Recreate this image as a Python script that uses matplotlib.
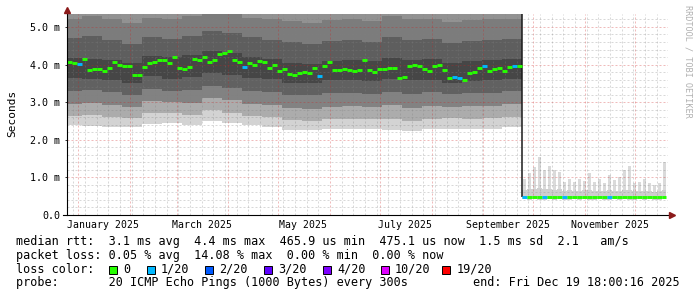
import numpy as np
import matplotlib
matplotlib.use("Agg")
import matplotlib.pyplot as plt
import matplotlib.dates as mdates
from matplotlib.ticker import FixedLocator, FixedFormatter, MultipleLocator, NullFormatter

# --- data -------------------------------------------------------------
# median rtt per 3-day step, starting 2024-12-22 (ms)
median_ms = [
    4.06, 4.07, 4.05, 4.02, 4.15, 3.85, 3.88, 3.87, 3.84, 3.92,
    4.06, 3.99, 3.96, 3.96, 3.72, 3.72, 3.94, 4.03, 4.08, 4.12,
    4.11, 4.05, 4.20, 3.90, 3.89, 3.94, 4.15, 4.12, 4.20, 4.08,
    4.12, 4.27, 4.30, 4.35, 4.11, 4.08, 3.94, 4.04, 3.98, 4.10,
    4.08, 3.91, 3.99, 3.83, 3.87, 3.75, 3.72, 3.78, 3.80, 3.78,
    3.90, 3.70, 3.96, 4.08, 3.86, 3.86, 3.88, 3.85, 3.82, 3.86,
    4.11, 3.85, 3.81, 3.88, 3.88, 3.90, 3.92, 3.64, 3.67, 3.96,
    3.99, 3.96, 3.89, 3.82, 3.96, 3.98, 3.86, 3.65, 3.66, 3.63,
    3.59, 3.77, 3.80, 3.90, 3.95, 3.84, 3.88, 3.90, 3.84, 3.94,
    3.96, 3.96,
    0.47, 0.47, 0.48, 0.47, 0.47, 0.48, 0.47, 0.47, 0.47, 0.48,
    0.47, 0.47, 0.47, 0.48, 0.47, 0.47, 0.48, 0.47, 0.47, 0.47,
    0.48, 0.47, 0.47, 0.47, 0.47, 0.48, 0.47, 0.47, 0.48,
]
# lost pings (of 20) per 3-day step
loss = [
    0, 0, 0, 1, 0, 0, 0, 0, 0, 0,
    0, 0, 0, 0, 0, 0, 0, 0, 0, 0,
    0, 0, 0, 0, 0, 0, 0, 0, 0, 0,
    0, 0, 0, 0, 0, 0, 1, 0, 0, 0,
    0, 0, 0, 0, 0, 0, 0, 0, 0, 0,
    0, 1, 0, 0, 0, 0, 0, 0, 0, 0,
    0, 0, 0, 0, 0, 0, 0, 0, 0, 0,
    0, 0, 0, 0, 0, 0, 0, 0, 1, 1,
    0, 0, 0, 0, 1, 0, 0, 0, 0, 0,
    1, 0,
    1, 0, 0, 0, 1, 0, 0, 0, 1, 0,
    0, 0, 0, 0, 0, 0, 0, 1, 0, 0,
    0, 0, 0, 0, 0, 0, 0, 0, 0,
]

# smoke before the change, 12-day steps (ms)
pre_lo  = [2.38, 2.37, 2.35, 2.35, 2.42, 2.45, 2.40, 2.50, 2.45, 2.40, 2.35, 2.25,
           2.25, 2.28, 2.30, 2.30, 2.25, 2.23, 2.30, 2.30, 2.30, 2.30, 2.35]
pre_p10 = [2.62, 2.65, 2.60, 2.58, 2.70, 2.72, 2.66, 2.78, 2.72, 2.64, 2.60, 2.52,
           2.50, 2.55, 2.56, 2.56, 2.55, 2.50, 2.56, 2.58, 2.56, 2.57, 2.60]
pre_p20 = [2.95, 2.98, 2.92, 2.88, 3.02, 3.00, 2.98, 3.10, 3.05, 2.96, 2.92, 2.85,
           2.83, 2.88, 2.90, 2.88, 2.92, 2.85, 2.90, 2.88, 2.90, 2.90, 2.95]
pre_p30 = [3.30, 3.32, 3.28, 3.20, 3.35, 3.30, 3.32, 3.42, 3.38, 3.30, 3.28, 3.20,
           3.18, 3.24, 3.25, 3.22, 3.28, 3.22, 3.26, 3.22, 3.25, 3.25, 3.30]
pre_p40 = [3.65, 3.62, 3.60, 3.52, 3.70, 3.62, 3.66, 3.78, 3.72, 3.65, 3.62, 3.52,
           3.50, 3.58, 3.60, 3.56, 3.62, 3.58, 3.60, 3.50, 3.55, 3.58, 3.62]
pre_p60 = [4.18, 4.15, 4.12, 4.05, 4.22, 4.20, 4.25, 4.35, 4.30, 4.20, 4.15, 4.05,
           4.02, 4.10, 4.12, 4.10, 4.18, 4.12, 4.15, 4.05, 4.10, 4.12, 4.15]
pre_p70 = [4.70, 4.75, 4.65, 4.55, 4.72, 4.68, 4.75, 4.88, 4.85, 4.72, 4.66, 4.60,
           4.55, 4.62, 4.65, 4.60, 4.72, 4.66, 4.68, 4.58, 4.62, 4.65, 4.68]
pre_p80 = [5.22, 5.30, 5.20, 5.10, 5.25, 5.20, 5.28, 5.40, 5.38, 5.25, 5.20, 5.15,
           5.10, 5.18, 5.20, 5.15, 5.28, 5.22, 5.22, 5.12, 5.18, 5.20, 5.22]

# smoke after the change, 3-day steps (ms)
post_lo  = [0.42, 0.41, 0.42, 0.41, 0.40, 0.42, 0.41, 0.42, 0.41, 0.41,
            0.42, 0.41, 0.42, 0.41, 0.41, 0.42, 0.41, 0.41, 0.42, 0.41,
            0.42, 0.41, 0.41, 0.42, 0.41, 0.42, 0.41, 0.41, 0.42]
post_p80 = [0.66, 0.70, 0.68, 0.72, 0.70, 0.68, 0.66, 0.68, 0.64, 0.66,
            0.65, 0.64, 0.66, 0.67, 0.64, 0.65, 0.63, 0.66, 0.64, 0.65,
            0.67, 0.66, 0.63, 0.64, 0.65, 0.63, 0.62, 0.63, 0.66]
post_max = [0.95, 1.12, 1.27, 1.53, 1.20, 1.29, 1.20, 1.15, 0.89, 0.97,
            0.89, 0.97, 0.90, 1.11, 0.89, 0.97, 0.84, 1.06, 0.93, 1.02,
            1.20, 1.29, 0.84, 0.89, 0.97, 0.84, 0.80, 0.84, 1.42]

y_labels = ["0.0", "1.0 m", "2.0 m", "3.0 m", "4.0 m", "5.0 m"]
x_labels = ["January 2025", "March 2025", "May 2025", "July 2025",
            "September 2025", "November 2025"]
x_label_months = ["2025-01-01", "2025-03-01", "2025-05-01", "2025-07-01",
                  "2025-09-01", "2025-11-01"]

loss_names = ["0", "1/20", "2/20", "3/20", "4/20", "10/20", "19/20"]
loss_colors = ["#26ff00", "#00b8ff", "#0059ff", "#5e00ff", "#7e00ff", "#dd00ff", "#ff0000"]

# --- time base ----------------------------------------------------------
t0 = np.datetime64("2024-12-22T00:00")
t_end = np.datetime64("2025-12-19T18:00")
view_start = np.datetime64("2024-12-24T21:00")
view_end = np.datetime64("2025-12-20T19:00")
d3 = np.timedelta64(3, "D")
d12 = np.timedelta64(12, "D")

n_pre = len(pre_lo)
med_left = t0 + np.arange(len(median_ms)) * d3
med_right = np.minimum(med_left + d3, t_end)
pre_edges = t0 + np.arange(n_pre + 1) * d12
drop_t = pre_edges[-1]
post_left = drop_t + np.arange(len(post_lo)) * d3
post_edges = np.append(post_left, t_end)

num = mdates.date2num

# --- figure -------------------------------------------------------------
W, H = 697, 297
fig = plt.figure(figsize=(W / 100, H / 100), dpi=100)
fig.patch.set_facecolor("white")
ax = fig.add_axes([66.5 / W, 1 - 215 / H, (668 - 66.5) / W, (215 - 13.8) / H])
y_top = 5.35
ax.set_xlim(num(view_start), num(view_end))
ax.set_ylim(0, y_top)
for s in ax.spines.values():
    s.set_visible(False)

# smoke before
xe = num(pre_edges)
def ext(v):
    return np.append(v, v[-1])
pre_layers = [pre_lo, pre_p10, pre_p20, pre_p30, pre_p40, pre_p60, pre_p70, pre_p80]
pre_greys = ["#d3d3d3", "#acacac", "#828282", "#616161", "#464646", "#5e5e5e", "#7c7c7c"]
for k in range(len(pre_greys)):
    ax.fill_between(xe, ext(pre_layers[k]), ext(pre_layers[k + 1]), step="post",
                    color=pre_greys[k], lw=0, zorder=1)
ax.fill_between(xe, ext(pre_p80), y_top + 1, step="post", color="#929292", lw=0, zorder=1)

# smoke after
pe = num(post_edges)
ax.fill_between(pe, ext(post_lo), ext(post_p80), step="post", color="#cfcfcf", lw=0, zorder=1)
ax.bar(num(post_left) + 0.5, np.array(post_max) - np.array(post_p80), bottom=post_p80,
       width=2.0, align="edge", color="#dadada", lw=0, zorder=1)

# black step at the change
ax.vlines(num(drop_t), median_ms[n_pre * 4], y_top, color="#1a1a1a", lw=1.1, zorder=4)

# median, colored by loss
ax.hlines(median_ms, num(med_left), num(med_right),
          colors=[loss_colors[l] for l in loss], lw=2.1, zorder=5)

# grid
ax.xaxis.set_major_locator(mdates.MonthLocator())
ax.xaxis.set_minor_locator(mdates.WeekdayLocator(byweekday=mdates.SU))
ax.xaxis.set_major_formatter(NullFormatter())
ax.yaxis.set_major_locator(FixedLocator(range(len(y_labels))))
ax.yaxis.set_major_formatter(FixedFormatter(y_labels))
ax.yaxis.set_minor_locator(MultipleLocator(0.2))
ax.set_axisbelow(False)
ax.grid(which="minor", color="#808080", alpha=0.3, lw=0.72, ls=(0, (2, 2)))
ax.grid(which="major", color="#cc2020", alpha=0.3, lw=0.72, ls=(0, (2, 2)))
ax.tick_params(axis="x", which="both", length=0)
ax.tick_params(axis="y", which="major", length=1.5, width=0.7, pad=3,
               labelsize=7.2, labelfontfamily="DejaVu Sans Mono", color="#333333")
ax.tick_params(axis="y", which="minor", length=0)

# axes with arrows
ax.plot([0, 0], [0, 1.01], transform=ax.transAxes, color="black", lw=0.8, clip_on=False, zorder=6)
ax.plot([-0.006, 1.004], [0, 0], transform=ax.transAxes, color="black", lw=0.8, clip_on=False, zorder=6)
ax.plot(0, 1.02, marker="^", ms=4.5, color="#8b1a1a", transform=ax.transAxes, clip_on=False, zorder=7)
ax.plot(1.006, 0, marker=">", ms=4.5, color="#8b1a1a", transform=ax.transAxes, clip_on=False, zorder=7)

# month labels (centered half a month after the month start)
trans = ax.get_xaxis_transform()
for lab, m in zip(x_labels, x_label_months):
    xm = num(np.datetime64(m) + np.timedelta64(15, "D"))
    ax.text(xm, -10 / 201, lab, transform=trans, ha="center", va="center",
            fontsize=7.1, family="DejaVu Sans Mono")

mono = "DejaVu Sans Mono"
def ftext(x, y, s, **kw):
    fig.text(x / W, 1 - y / H, s, family=mono, **kw)

ftext(12, 113, "Seconds", rotation=90, ha="center", va="center", fontsize=8)
ftext(688, 5, "RRDTOOL / TOBI OETIKER", rotation=270, ha="center", va="top",
      fontsize=6.1, color="#b0b0b0")

fs = 8.45
ftext(16, 241.7, "median rtt:  3.1 ms avg  4.4 ms max  465.9 us min  475.1 us now  1.5 ms sd  2.1   am/s",
      va="center", fontsize=fs)
ftext(16, 255, "packet loss: 0.05 % avg  14.08 % max  0.00 % min  0.00 % now",
      va="center", fontsize=fs)
ftext(16, 269.3, "loss color:", va="center", fontsize=fs)
box_x = [108.5, 146.5, 205, 264, 322.5, 380.5, 442]
for bx, name, col in zip(box_x, loss_names, loss_colors):
    fig.patches.append(plt.Rectangle((bx / W, 1 - 273.5 / H), 8 / W, 8 / H,
                                     transform=fig.transFigure, facecolor=col,
                                     edgecolor="black", lw=0.7))
    ftext(bx + 14.5, 269.3, name, va="center", fontsize=fs)
ftext(16, 282.7, "probe:       20 ICMP Echo Pings (1000 Bytes) every 300s", va="center", fontsize=fs)
ftext(680, 282.7, "end: Fri Dec 19 18:00:16 2025", va="center", ha="right", fontsize=fs)

fig.savefig("out.png", dpi=100, facecolor="white")
